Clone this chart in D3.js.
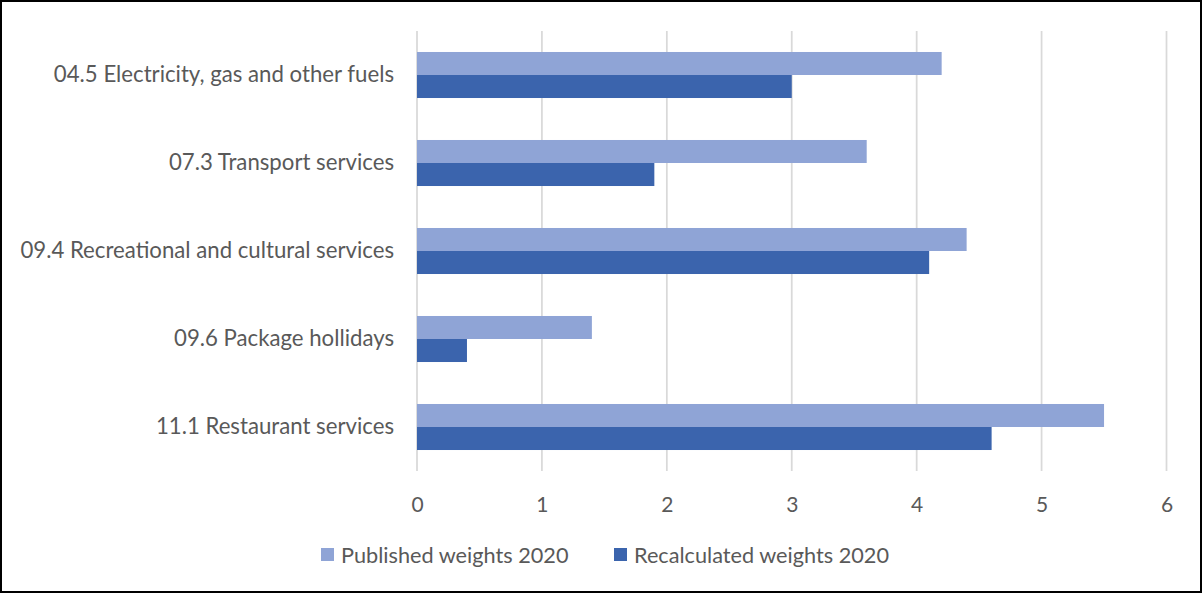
<!DOCTYPE html>
<html><head><meta charset="utf-8">
<script src="https://cdn.jsdelivr.net/npm/d3@7"></script>
<style>
html,body{margin:0;padding:0;background:#fff;}
svg{display:block;}
text{font-family:Lato, "Open Sans", sans-serif;fill:#595959;}
</style></head>
<body>
<svg id="chart" width="1203" height="594"></svg>
<script>
const categories = ["04.5 Electricity, gas and other fuels","07.3 Transport services","09.4 Recreational and cultural services","09.6 Package hollidays","11.1 Restaurant services"];
const seriesNames = ["Published weights 2020","Recalculated weights 2020"];
const published = [4.2, 3.6, 4.4, 1.4, 5.5];
const recalculated = [3.0, 1.9, 4.1, 0.4, 4.6];
const xTicks = [0,1,2,3,4,5,6];
const colors = ["#8FA4D6","#3B64AD"];

const svg = d3.select("#chart");
svg.append("rect").attr("x",1).attr("y",1).attr("width",1200).attr("height",591)
  .attr("fill","#fff").attr("stroke","#000").attr("stroke-width",2);

const pLeft = 417, pRight = 1166.5, pTop = 31, pBottom = 471;
const x = d3.scaleLinear().domain([0,6]).range([pLeft,pRight]);
const y = d3.scaleBand().domain(categories).range([pTop,pBottom]).paddingInner(0.477).paddingOuter(0.2385);
const y1 = d3.scaleBand().domain(seriesNames).range([0,y.bandwidth()]);

// gridlines
svg.append("g").selectAll("line").data(xTicks).join("line")
  .attr("x1",d=>x(d)).attr("x2",d=>x(d)).attr("y1",pTop).attr("y2",pBottom)
  .attr("stroke","#D9D9D9").attr("stroke-width",1.75);

const data = categories.map((c,i)=>({c, vals:[published[i], recalculated[i]]}));
const g = svg.append("g");
data.forEach(d=>{
  d.vals.forEach((v,j)=>{
    g.append("rect").attr("x",x(0)).attr("y",y(d.c)+y1(seriesNames[j]))
      .attr("width",x(v)-x(0)).attr("height",y1.bandwidth()).attr("fill",colors[j]);
  });
});

// x axis
const xAxis = svg.append("g").attr("transform",`translate(0,${pBottom})`)
  .call(d3.axisBottom(x).tickValues(xTicks).tickSize(0).tickPadding(26).tickFormat(d3.format("d")));
xAxis.select(".domain").remove();
xAxis.selectAll("text").attr("font-size",21).style("font-family","Lato, sans-serif").attr("fill","#595959");

// y axis
const yAxis = svg.append("g").attr("transform",`translate(${pLeft},0)`)
  .call(d3.axisLeft(y).tickSize(0).tickPadding(23));
yAxis.select(".domain").remove();
yAxis.selectAll("text").attr("font-size",22.2).style("font-family","Lato, sans-serif").attr("fill","#595959");

// legend
const lg = svg.append("g");
const lx = [321, 614];
seriesNames.forEach((s,i)=>{
  lg.append("rect").attr("x",lx[i]).attr("y",548).attr("width",13).attr("height",13).attr("fill",colors[i]);
  lg.append("text").attr("x",lx[i]+20).attr("y",555).attr("dy","0.35em").attr("font-size",21.7).text(s);
});
</script>
</body></html>
